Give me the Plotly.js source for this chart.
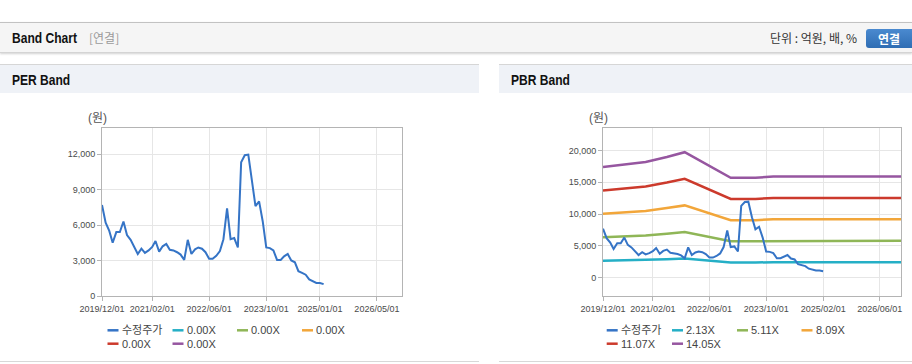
<!DOCTYPE html>
<html><head><meta charset="utf-8">
<script src="https://cdn.plot.ly/plotly-3.0.1.min.js"></script>
<style>
html,body{margin:0;padding:0;}
body{width:912px;height:364px;overflow:hidden;background:#fff;position:relative;font-family:"Noto Sans CJK KR","Liberation Sans",sans-serif;}
#topbar{position:absolute;left:0;top:22px;width:912px;height:29px;background:#f5f5f5;border-top:1px solid #c2c2c2;border-bottom:1px solid #d4d4d4;box-shadow:0 1px 2px rgba(0,0,0,0.18);}
.hb{font-family:"Liberation Sans",Arial,sans-serif;font-weight:bold;color:#111;font-size:14px;line-height:18px;transform:scaleX(0.86);transform-origin:0 50%;white-space:nowrap;}
#title{position:absolute;left:12px;top:6px;}
#sub{position:absolute;left:89px;top:6px;font-size:12px;color:#9a9a9a;line-height:18px;}
#unit{position:absolute;left:770px;top:6px;font-size:12px;color:#333;line-height:18px;}
#btn{position:absolute;left:866px;top:6px;width:52px;height:19px;border-radius:3px;background:linear-gradient(#4a8ad0,#2f6db3);color:#fff;font-size:12px;font-weight:bold;text-align:center;line-height:19px;text-indent:-6px;}
.phead{position:absolute;top:64px;height:28px;background:#eff2f7;border-top:1px solid #d6d6d6;}
.phead span{position:absolute;left:12px;top:6px;}
.pbot{position:absolute;top:361px;height:0;border-top:1px solid #d8d8d8;}
.plot{position:absolute;top:93px;height:268px;}
</style>
</head><body>
<div id="topbar"><div id="title" class="hb">Band Chart</div><div id="sub">[연결]</div><div id="unit">단위 : 억원, 배, %</div><div id="btn">연결</div></div>
<div class="phead" style="left:0;width:479px;"><span class="hb">PER Band</span></div>
<div class="phead" style="left:499px;width:413px;"><span class="hb">PBR Band</span></div>
<div class="pbot" style="left:0;width:479px;"></div>
<div class="pbot" style="left:499px;width:413px;"></div>
<div id="per" class="plot" style="left:0;width:479px;"></div>
<div id="pbr" class="plot" style="left:499px;width:413px;"></div>
<script>
// ---- data ----
const months = ['2019-12-01','2020-01-01','2020-02-01','2020-03-01','2020-04-01','2020-05-01','2020-06-01','2020-07-01','2020-08-01','2020-09-01','2020-10-01','2020-11-01','2020-12-01',
'2021-01-01','2021-02-01','2021-03-01','2021-04-01','2021-05-01','2021-06-01','2021-07-01','2021-08-01','2021-09-01','2021-10-01','2021-11-01','2021-12-01',
'2022-01-01','2022-02-01','2022-03-01','2022-04-01','2022-05-01','2022-06-01','2022-07-01','2022-08-01','2022-09-01','2022-10-01','2022-11-01','2022-12-01',
'2023-01-01','2023-02-01','2023-03-01','2023-04-01','2023-05-01','2023-06-01','2023-07-01','2023-08-01','2023-09-01','2023-10-01','2023-11-01','2023-12-01',
'2024-01-01','2024-02-01','2024-03-01','2024-04-01','2024-05-01','2024-06-01','2024-07-01','2024-08-01','2024-09-01','2024-10-01','2024-11-01','2024-12-01',
'2025-01-01','2025-02-01'];
const price = [7700,6200,5500,4500,5400,5400,6300,5150,4750,4200,3550,4000,3650,
3850,4150,4650,3750,4200,4400,3900,3850,3700,3500,3050,4750,
3550,3950,4100,4000,3700,3150,3150,3400,3800,4800,7400,4800,
4900,4100,11300,11900,11950,9500,7600,8000,6300,4100,4050,3850,
3050,3050,3350,3550,3000,2850,2100,1950,1800,1400,1250,1100,
1100,1000];
const bandDates = ['2019-12-01','2020-06-01','2020-12-01','2021-06-01','2021-11-01','2022-12-01','2023-07-01','2023-12-01','2026-12-01'];
const pbr213  = [2641,2697,2760,2880,2993,2381,2381,2413,2413];
const pbr511  = [6336,6469,6623,6909,7180,5713,5713,5790,5790];
const pbr809  = [10032,10242,10485,10938,11366,9045,9045,9166,9166];
const pbr1107 = [13727,14015,14347,14967,15553,12376,12376,12542,12542];
const pbr1405 = [17422,17787,18209,18996,19740,15708,15708,15919,15919];
const perNames = ['수정주가','0.00X','0.00X','0.00X','0.00X','0.00X'];
const pbrNames = ['수정주가','2.13X','5.11X','8.09X','11.07X','14.05X'];
const colors = ['#3574c6','#25afc6','#8fb657','#f2a63a','#cc3a2c','#9656a0'];
const perTicks = ['2019-12-01','2021-02-01','2022-06-01','2023-10-01','2025-01-01','2026-05-01'];
const pbrTicks = ['2019-12-01','2021-02-01','2022-06-01','2023-10-01','2025-02-01','2026-06-01'];
const perY = [0,3000,6000,9000,12000];
const pbrY = [0,5000,10000,15000,20000];
const xRange = ['2019-12-01','2026-12-01'];

// ---- drawing ----
const tickFont = {family:'"Liberation Sans", Arial, sans-serif', size:9, color:'#4a4a4a'};
function build(divId, W, H, m, names, traces, xt, yt, yr, legX){
  const pw = W - m.l - m.r, ph = H - m.t - m.b;
  const px = x => (x - m.l)/pw;
  const py = y => (m.t + ph - y)/ph;
  const shapes = [], ann = [];
  const rows = [237.3, 250.7];
  names.forEach((n,i)=>{
    const row = i < 4 ? 0 : 1, col = i < 4 ? i : i-4;
    const x0 = legX[col], y0 = rows[row];
    shapes.push({type:'line', xref:'paper', yref:'paper', x0:px(x0), x1:px(x0+11), y0:py(y0), y1:py(y0), line:{color:colors[i], width:2.5}});
    ann.push({xref:'paper', yref:'paper', x:px(x0+12), y:py(y0), xanchor:'left', yanchor:'middle', showarrow:false, text:n,
      font:{family:'"Liberation Sans","Noto Sans CJK KR",sans-serif', size:11, color:'#444'}});
  });
  ann.push({xref:'paper', yref:'paper', x:px(m.l-5), y:py(25), xanchor:'center', yanchor:'middle', showarrow:false, text:'(원)',
    font:{family:'"Liberation Sans","Noto Sans CJK KR",sans-serif', size:12, color:'#555'}});
  const ax = {showgrid:true, gridcolor:'#e6e6e6', gridwidth:1, showline:true, mirror:true, linecolor:'#b4b4b4', linewidth:1,
    ticks:'outside', ticklen:4, tickcolor:'#b4b4b4', tickfont:tickFont, zeroline:false, fixedrange:true};
  const layout = {
    width:W, height:H, margin:{l:m.l, r:m.r, t:m.t, b:m.b, pad:0},
    paper_bgcolor:'rgba(0,0,0,0)', plot_bgcolor:'#fff', showlegend:false,
    xaxis:Object.assign({}, ax, {type:'date', range:xRange, tickmode:'array', tickvals:xt, ticktext:xt.map(s=>s.replace(/-/g,'/')), tickangle:0}),
    yaxis:Object.assign({}, ax, {range:yr, tickmode:'array', tickvals:yt, tickformat:',d'}),
    shapes:shapes, annotations:ann
  };
  Plotly.newPlot(divId, traces, layout, {staticPlot:true, displayModeBar:false});
}

const perTraces = [
  {x:months, y:price, name:perNames[0], type:'scatter', mode:'lines', line:{color:colors[0], width:2}},
];
for (let i=1;i<6;i++) perTraces.push({x:[], y:[], name:perNames[i], type:'scatter', mode:'lines', line:{color:colors[i], width:2.5}});

const bands = [pbr213, pbr511, pbr809, pbr1107, pbr1405];
const pbrTraces = bands.map((b,i)=>({x:bandDates, y:b, name:pbrNames[i+1], type:'scatter', mode:'lines', line:{color:colors[i+1], width:2.5}}));
pbrTraces.push({x:months, y:price, name:pbrNames[0], type:'scatter', mode:'lines', line:{color:colors[0], width:2}});

build('per', 479, 268, {l:102, r:77, t:35, b:65}, perNames, perTraces, perTicks, perY, [0,14200], [107.5,172.5,237,302]);
build('pbr', 413, 268, {l:104, r:11, t:35, b:65}, pbrNames, pbrTraces, pbrTicks, pbrY, [-2900,23550], [107.7,173,238,302.5]);
</script>
</body></html>
